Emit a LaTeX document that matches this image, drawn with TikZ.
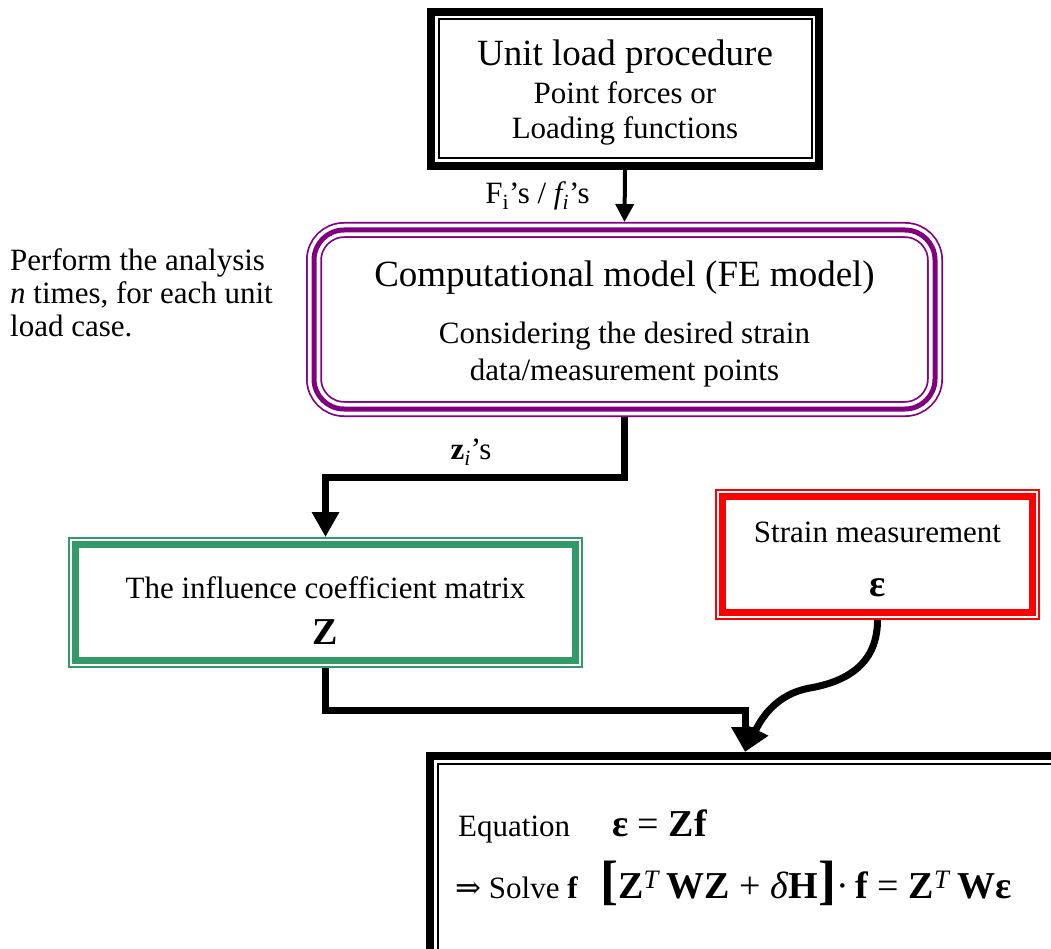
\documentclass[tikz,border=0pt]{standalone}
\usepackage{fontspec}
\setmainfont{Liberation Serif}
\newfontfamily\arrowfont{DejaVu Serif}
\usetikzlibrary{arrows.meta}
\definecolor{fepurple}{RGB}{128,0,128}
\definecolor{inflgreen}{RGB}{51,153,102}
\definecolor{strainred}{RGB}{255,0,0}
\newcommand\bodysize{\fontsize{31}{35}\selectfont}
\newcommand\titlesize{\fontsize{37}{42}\selectfont}
\newcommand\eqsize{\fontsize{38}{42}\selectfont}
\newcommand\bigbr[1]{{\fontsize{54}{54}\selectfont\bfseries #1}}
\newcommand\lift[1]{\rule{0pt}{#1}}
\tikzset{
  boxtext/.style={align=center, inner sep=0pt, font=\bodysize},
  feed/.style={line width=4pt, -{Triangle[width=18pt,length=18pt]}},
  flow/.style={line width=7pt, -{Triangle[width=26pt,length=25pt]}},
}
\begin{document}
\begin{tikzpicture}[x=1pt,y=-1pt]
    \useasboundingbox (0,0) rectangle (1051,949);
    \clip (0,0) rectangle (1051,949);

    % unit load box
    \node[boxtext, draw, line width=8pt, minimum width=388pt, minimum height=154pt] (unitload) at (625,89)
        {{\titlesize\lift{33pt}Unit load procedure}\\[3pt] Point forces or\\ Loading functions};
    \draw[line width=2pt] ([shift={(11.5pt,-11.5pt)}]unitload.north west) rectangle ([shift={(-11.5pt,11.5pt)}]unitload.south east);

    % FE model box
    \node[boxtext, font={\fontsize{31}{37}\selectfont}, draw=fepurple, line width=5pt, rounded corners=30pt, outer sep=8pt,
          preaction={draw=fepurple, line width=16pt}, preaction={draw=white, line width=12.5pt},
          minimum width=621pt, minimum height=179pt] (femodel) at (624.5,319.5)
        {{\titlesize\lift{35pt}Computational model (FE model)}\\[20pt] Considering the desired strain\\ data/measurement points};
    \node[anchor=west, align=left, inner sep=0pt, font={\fontsize{31}{33}\selectfont}] (perform) at (10,293)
        {Perform the analysis\\ \textit{n} times, for each unit\\ load case.};

    \draw[feed] (unitload.south) -- (femodel.north)
        node[midway, left=33pt, inner sep=0pt, font=\bodysize] (fload) {F\textsubscript{i}’s / \textit{f\textsubscript{i}}’s};

    % influence matrix box
    \node[boxtext, draw=inflgreen, line width=2pt, minimum width=513pt, minimum height=129pt] (infl) at (325.5,602.5)
        {\lift{38pt}The influence coefficient matrix\\[11pt] {\fontsize{38}{40}\selectfont\bfseries Z}};
    \draw[inflgreen, line width=7pt] ([shift={(7.5pt,-7.5pt)}]infl.north west) rectangle ([shift={(-7.5pt,7.5pt)}]infl.south east);

    % strain measurement box
    \node[boxtext, draw=strainred, line width=2pt, minimum width=323pt, minimum height=129pt] (strain) at (877.5,554.5)
        {\lift{31pt}Strain measurement\\[19pt] {\fontsize{38}{40}\selectfont\bfseries ε}};
    \draw[strainred, line width=7pt] ([shift={(7.5pt,-7.5pt)}]strain.north west) rectangle ([shift={(-7.5pt,7.5pt)}]strain.south east);

    \draw[flow] (femodel.south) -- ++(0,60) -| (infl.north);
    \node[font=\bodysize, inner sep=0pt] (zlabel) at (471,452) {\textbf{z}\textsubscript{\textit{i}}’s};

    % equation box
    \node[draw, line width=8pt, anchor=north west, minimum width=700pt, minimum height=260pt] (solve) at (426,752) {};
    \draw[line width=2pt] ([shift={(11.5pt,-11.5pt)}]solve.north west) rectangle ([shift={(-11.5pt,11.5pt)}]solve.south east);
    \coordinate (meet) at (745,752);

    \draw[flow] (infl.south) -- ++(0,42) -| (meet);
    \draw[flow] (strain.south) to[out=-90,in=10,looseness=1.1] (810,688) to[out=190,in=64] (meet);

    \node[anchor=base west, inner sep=0pt, font=\bodysize] (eqname) at (458,836) {Equation};
    \node[anchor=base west, inner sep=0pt, font=\eqsize] (eqform) at (612,836) {\textbf{ε} = \textbf{Zf}};
    \node[anchor=base west, inner sep=0pt, font=\bodysize] (solvename) at (455,898) {{\arrowfont ⇒} Solve \textbf{f}};
    \node[anchor=base west, inner sep=0pt, font=\eqsize] (solveform) at (600,898)
        {\bigbr{[}\textbf{Z}\textsuperscript{\textit{T}}\,\textbf{WZ} + \textit{δ}\textbf{H}\bigbr{]}·\,\textbf{f} = \textbf{Z}\textsuperscript{\textit{T}}\,\textbf{Wε}};
\end{tikzpicture}
\end{document}
